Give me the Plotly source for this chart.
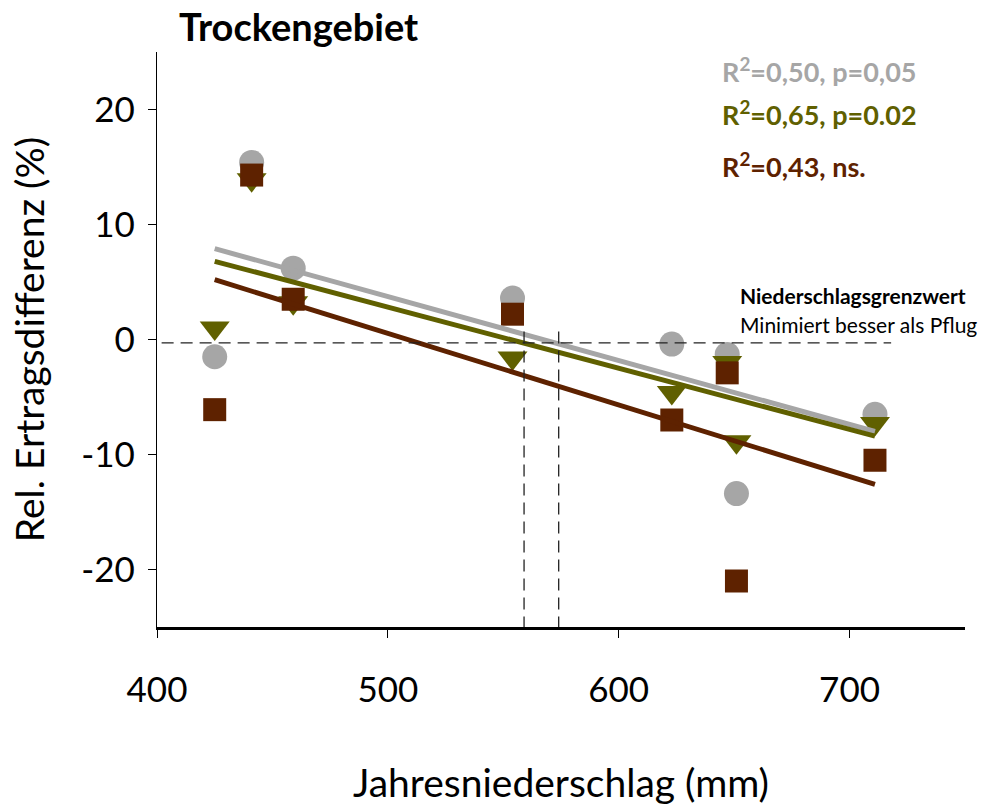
import plotly.graph_objects as go

# Annual precipitation per site-year (mm)
precip = [425, 441, 459, 554, 623, 647, 651, 711]

# Relative yield difference (%) for the three tillage variants
grey_vals = [-1.5, 15.4, 6.2, 3.6, -0.4, -1.3, -13.4, -6.5]
olive_vals = [1.0, 13.9, 3.2, -1.6, -4.6, -2.0, -8.9, -7.3]
brown_vals = [-6.1, 14.3, 3.5, 2.2, -7.0, -2.9, -21.0, -10.5]

# Linear trend lines (values at both ends of the precipitation range)
trend_x = [425, 711]
grey_trend = [7.9, -8.0]
olive_trend = [6.8, -8.4]
brown_trend = [5.2, -12.6]

# Precipitation thresholds and the zero reference line
threshold_x = [559, 574]
zero_line_x = [402, 718]
zero_line_y = -0.3

x_ticks = [400, 500, 600, 700]
y_ticks = [-20, -10, 0, 10, 20]
y_tick_text = ["-20", "-10", "0", "10", "20"]

stats_labels = ["R<sup>2</sup>=0,50, p=0,05", "R<sup>2</sup>=0,65, p=0.02", "R<sup>2</sup>=0,43, ns."]

GREY = "#a6a6a6"
OLIVE = "#606000"
BROWN = "#5e2200"
FONT = "Lato"

fig = go.Figure()

fig.add_trace(go.Scatter(x=precip, y=grey_vals, mode="markers",
                         marker=dict(symbol="circle", size=25, color=GREY)))
fig.add_trace(go.Scatter(x=precip, y=olive_vals, mode="markers",
                         marker=dict(symbol="triangle-down", size=26, color=OLIVE)))
fig.add_trace(go.Scatter(x=precip, y=brown_vals, mode="markers",
                         marker=dict(symbol="square", size=23, color=BROWN)))

for ty, col in [(grey_trend, GREY), (olive_trend, OLIVE), (brown_trend, BROWN)]:
    fig.add_trace(go.Scatter(x=trend_x, y=ty, mode="lines",
                             line=dict(color=col, width=5)))

dash_style = dict(color="#222222", width=1.3, dash="12px,7px")
fig.add_trace(go.Scatter(x=zero_line_x, y=[zero_line_y, zero_line_y], mode="lines",
                         line=dash_style))
for tx in threshold_x:
    fig.add_trace(go.Scatter(x=[tx, tx], y=[0.7, -25], mode="lines", line=dash_style))

annotations = [
    dict(text="<b>Trockengebiet</b>", xref="paper", yref="paper", x=0.025, y=1.0,
         xanchor="left", yanchor="bottom", showarrow=False,
         font=dict(family=FONT, size=38, color="black"), yshift=1),
    dict(text="<b>Niederschlagsgrenzwert</b>", xref="x", yref="y", x=651.5, y=3.8,
         xanchor="left", yanchor="middle", showarrow=False,
         font=dict(family=FONT, size=21, color="black")),
    dict(text="Minimiert besser als Pflug", xref="x", yref="y", x=651.5, y=1.3,
         xanchor="left", yanchor="middle", showarrow=False,
         font=dict(family=FONT, size=21, color="black")),
]
for label, col, yy in zip(stats_labels, [GREY, OLIVE, BROWN], [23.4, 19.7, 15.2]):
    annotations.append(dict(text="<b>" + label + "</b>", xref="x", yref="y", x=643.7, y=yy,
                            xanchor="left", yanchor="middle", showarrow=False,
                            font=dict(family=FONT, size=27, color=col)))

fig.update_layout(
    width=983, height=810,
    margin=dict(l=157, r=18, t=52, b=176),
    paper_bgcolor="white", plot_bgcolor="white",
    showlegend=False,
    font=dict(family=FONT, size=35, color="black"),
    annotations=annotations,
    xaxis=dict(range=[400, 750], tickvals=x_ticks,
               showline=True, linecolor="black", linewidth=2.5,
               ticks="outside", ticklen=8, tickwidth=1.2, tickcolor="black",
               showgrid=False, zeroline=False, ticklabelstandoff=22,
               tickfont=dict(family=FONT, size=35),
               title=dict(text="Jahresniederschlag (mm)", standoff=62,
                          font=dict(family=FONT, size=39))),
    yaxis=dict(range=[-25, 25], tickvals=y_ticks, ticktext=y_tick_text,
               showline=True, linecolor="black", linewidth=1.3,
               ticks="outside", ticklen=8, tickwidth=1.2, tickcolor="black",
               showgrid=False, zeroline=False, ticklabelstandoff=6,
               tickfont=dict(family=FONT, size=35),
               title=dict(text="Rel. Ertragsdifferenz (%)", standoff=24,
                          font=dict(family=FONT, size=39))),
)

fig.write_html("out.html")
